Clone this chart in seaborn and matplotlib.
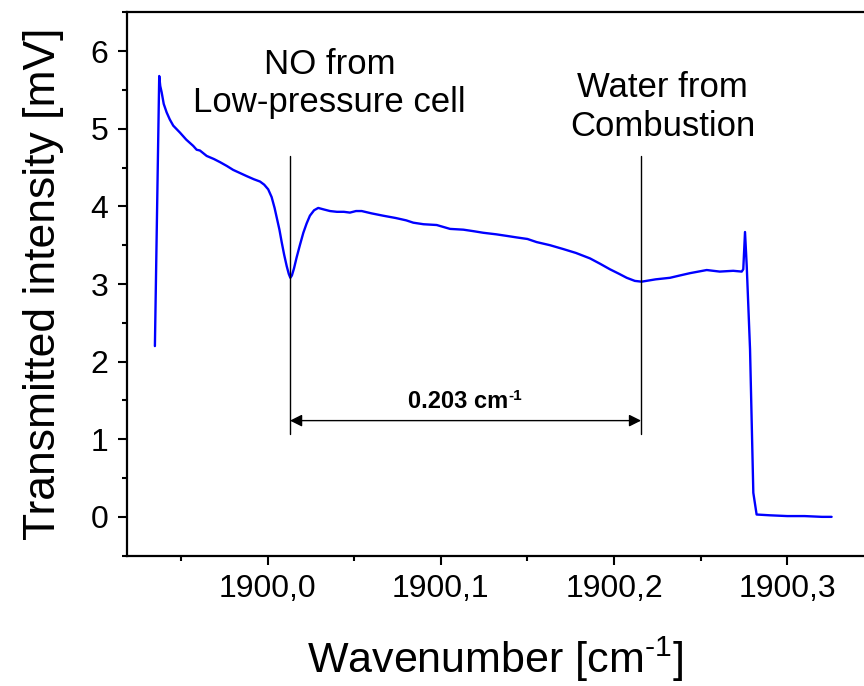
import matplotlib
matplotlib.use("Agg")
import matplotlib.pyplot as plt
from matplotlib.ticker import MultipleLocator, FuncFormatter
import seaborn as sns
import pandas as pd

# spectrum
wavenumber = [1899.9349, 1899.9374, 1899.9380, 1899.9388, 1899.9400, 1899.9417, 1899.9435,
              1899.9455, 1899.9494, 1899.9530, 1899.9570, 1899.9590, 1899.9609, 1899.9648,
              1899.9690, 1899.9725, 1899.9765, 1899.9801, 1899.9840, 1899.9879, 1899.9920,
              1899.9956, 1899.9980, 1900.0003, 1900.0023, 1900.0040, 1900.0052, 1900.0068,
              1900.0081, 1900.0095, 1900.0110, 1900.0122, 1900.0131, 1900.0140, 1900.0152,
              1900.0167, 1900.0186, 1900.0206, 1900.0225, 1900.0244, 1900.0268, 1900.0292,
              1900.0325, 1900.0360, 1900.0400, 1900.0440, 1900.0475, 1900.0510, 1900.0543,
              1900.0600, 1900.0667, 1900.0740, 1900.0800, 1900.0841, 1900.0900, 1900.0976,
              1900.1053, 1900.1130, 1900.1190, 1900.1245, 1900.1320, 1900.1380, 1900.1438,
              1900.1500, 1900.1553, 1900.1630, 1900.1707, 1900.1780, 1900.1861, 1900.1920,
              1900.1976, 1900.2030, 1900.2073, 1900.2120, 1900.2159, 1900.2240, 1900.2323,
              1900.2380, 1900.2439, 1900.2535, 1900.2610, 1900.2688, 1900.2737, 1900.2746,
              1900.2756, 1900.2766, 1900.2785, 1900.2804, 1900.2823, 1900.2900, 1900.3000,
              1900.3100, 1900.3200, 1900.3256]
intensity = [2.20, 5.68, 5.55, 5.47, 5.32, 5.21, 5.12,
             5.04, 4.95, 4.86, 4.78, 4.73, 4.72, 4.65,
             4.61, 4.57, 4.52, 4.47, 4.43, 4.39, 4.35,
             4.32, 4.28, 4.22, 4.12, 3.98, 3.86, 3.70,
             3.54, 3.38, 3.23, 3.13, 3.08, 3.11, 3.20,
             3.34, 3.50, 3.66, 3.78, 3.88, 3.95, 3.98,
             3.96, 3.94, 3.93, 3.93, 3.92, 3.94, 3.94,
             3.91, 3.88, 3.85, 3.82, 3.79, 3.77, 3.76,
             3.71, 3.70, 3.68, 3.66, 3.64, 3.62, 3.60,
             3.58, 3.54, 3.50, 3.45, 3.40, 3.33, 3.26,
             3.19, 3.13, 3.08, 3.04, 3.03, 3.06, 3.08,
             3.11, 3.14, 3.18, 3.16, 3.17, 3.16, 3.19,
             3.67, 3.23, 2.16, 0.31, 0.03, 0.02, 0.01,
             0.01, 0.00, 0.00]

# annotation values
no_line = 1900.0129
water_line = 1900.2156
spacing_text = "0.203 cm"
spacing_sup = "-1"
no_label = "NO from\nLow-pressure cell"
water_label = "Water from\nCombustion"

df = pd.DataFrame({"wn": wavenumber, "mv": intensity})

sns.set_style("ticks")
plt.rcParams["font.family"] = ["Liberation Sans", "DejaVu Sans"]
plt.rcParams["mathtext.fontset"] = "custom"
plt.rcParams["mathtext.rm"] = "Liberation Sans"
plt.rcParams["mathtext.bf"] = "Liberation Sans:bold"
plt.rcParams["mathtext.default"] = "regular"
for k in ["text.color", "axes.labelcolor", "xtick.color", "ytick.color", "axes.edgecolor"]:
    plt.rcParams[k] = "black"

fig = plt.figure(figsize=(8.64, 6.86), dpi=100)
ax = fig.add_axes([0.147, 0.190, 0.853, 0.792])

sns.lineplot(data=df, x="wn", y="mv", ax=ax, color="#0000ff", lw=1.7,
             sort=False, estimator=None)

ax.set_xlim(1899.9188, 1900.3443)
ax.set_ylim(-0.5, 6.5)

# marker lines and double arrow
for xv in [no_line, water_line]:
    ax.plot([xv, xv], [1.07, 4.65], color="black", lw=1.0)
ax.annotate("", xy=(no_line, 1.24), xytext=(water_line, 1.24),
            arrowprops=dict(arrowstyle="<|-|>", color="black", lw=1.0,
                            mutation_scale=18, shrinkA=0, shrinkB=0))
t1 = ax.text(1900.110, 1.48, spacing_text, ha="center", va="center",
             fontsize=17, fontweight="bold")
ax.annotate(spacing_sup, xy=(1.0, 1.08), xycoords=t1, ha="left", va="top",
            fontsize=11, fontweight="bold")
ax.text(1900.0356, 5.58, no_label, ha="center", va="center", fontsize=25,
        linespacing=1.2)
ax.text(1900.228, 5.28, water_label, ha="center", va="center", fontsize=25,
        linespacing=1.2)

ax.xaxis.set_major_locator(MultipleLocator(0.1))
ax.xaxis.set_minor_locator(MultipleLocator(0.05))
ax.yaxis.set_major_locator(MultipleLocator(1))
ax.yaxis.set_minor_locator(MultipleLocator(0.5))
ax.xaxis.set_major_formatter(FuncFormatter(lambda v, p: f"{v:.1f}".replace(".", ",")))

ax.tick_params(which="major", direction="out", length=6.5, width=1.5,
               labelsize=23, pad=7)
ax.tick_params(which="minor", direction="out", length=3.8, width=1.5)
ax.tick_params(top=False, right=False, which="both")

for s in ["left", "bottom", "top"]:
    ax.spines[s].set_linewidth(1.6)
ax.spines["right"].set_visible(False)

ax.set_xlabel(r"Wavenumber [cm$^{\text{-1}}$]", fontsize=31, labelpad=22)
ax.set_ylabel("Transmitted intensity [mV]", fontsize=32, labelpad=19)

fig.savefig("out.png", dpi=100)
